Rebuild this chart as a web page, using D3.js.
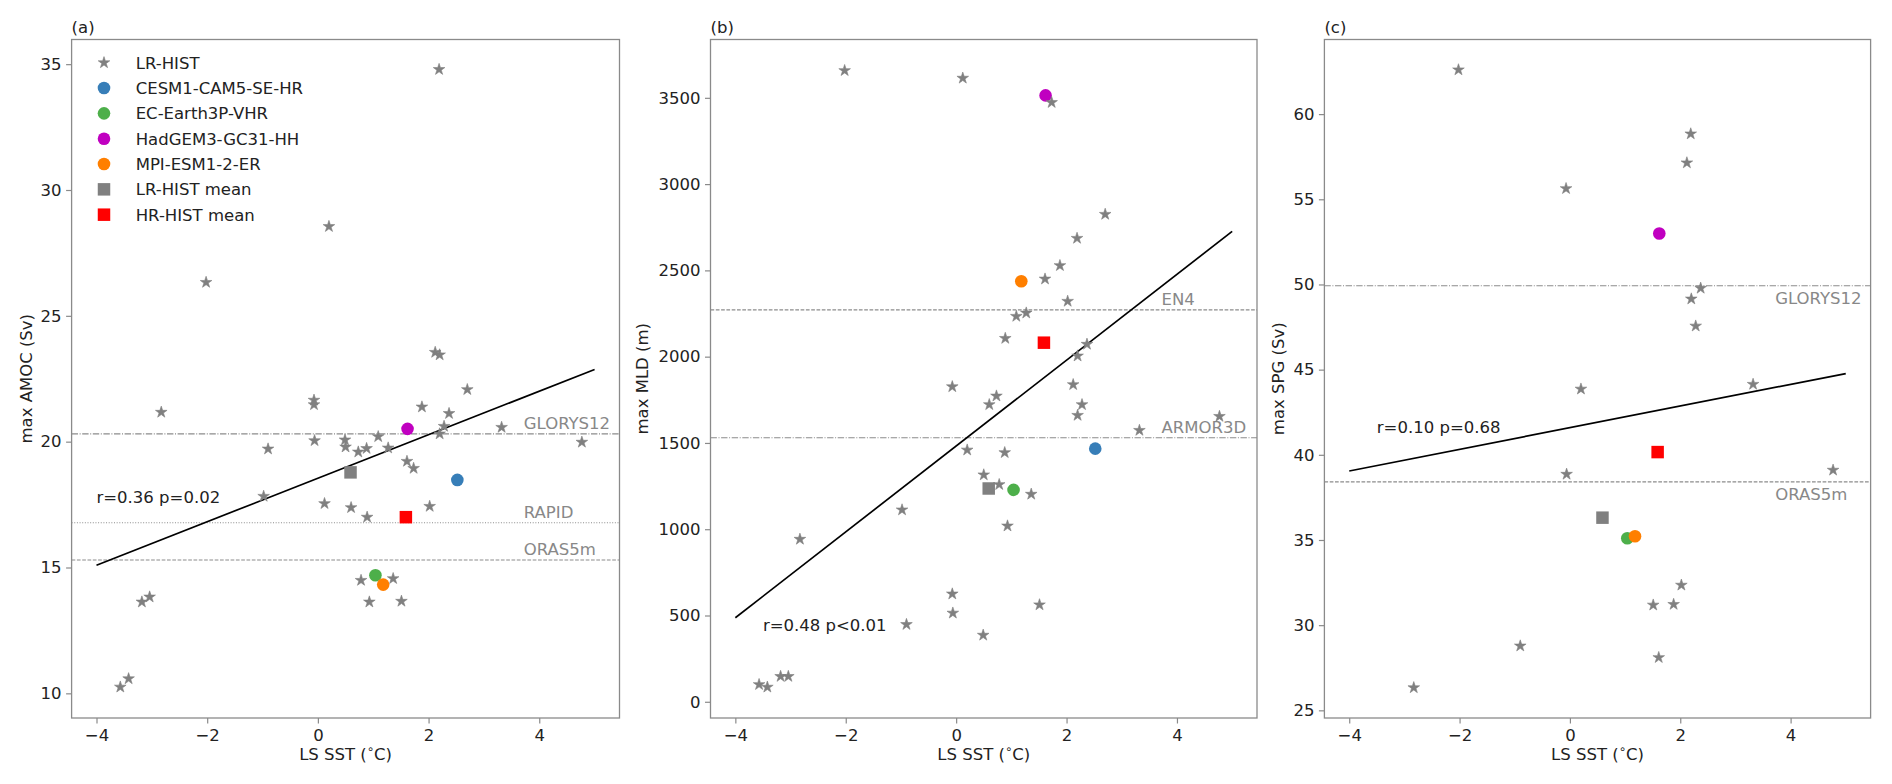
<!DOCTYPE html>
<html><head><meta charset="utf-8">
<script src="https://cdn.jsdelivr.net/npm/d3@7"></script>
<style>body{margin:0;background:#fff} text{font-family:"DejaVu Sans",sans-serif}</style>
</head><body><svg id="c" width="1892" height="784"></svg>
<script>
// ---------------- DATA ----------------
const xTicks = [-4, -2, 0, 2, 4];
const amocTicks = [10, 15, 20, 25, 30, 35];
const mldTicks = [0, 500, 1000, 1500, 2000, 2500, 3000, 3500];
const spgTicks = [25, 30, 35, 40, 45, 50, 55, 60];

// LR-HIST models: Labrador Sea SST (°C)
const lrSST = [-3.57,-3.42,-3.18,-3.04,-2.83,-2.02,-0.98,-0.90,-0.07,-0.07,-0.06,0.12,0.20,0.49,0.50,0.60,0.73,0.78,0.88,0.89,0.93,1.09,1.27,1.36,1.51,1.61,1.73,1.88,2.02,2.12,2.19,2.20,2.20,2.28,2.37,2.70,3.32,4.77];
const lrAMOC = [10.25,10.58,13.63,13.83,21.17,26.33,17.83,19.71,21.65,21.47,20.04,17.54,28.55,20.07,19.79,17.38,19.59,14.49,19.73,17.0,13.63,20.20,19.75,14.56,13.66,19.22,18.94,21.38,17.43,23.55,34.79,23.45,20.31,20.61,21.12,22.07,20.57,19.98];
const lrMLD = [100,85,147,147,942,3658,1112,448,1826,625,514,3614,1459,386,1315,1722,1772,1259,1444,2106,1019,2234,2253,1203,562,2450,3473,2528,2321,1838,2686,2004,1660,1722,2072,2825,1573,1654];
const lrSPG = [null,null,null,null,26.33,62.60,null,28.78,55.63,null,38.86,null,43.86,null,null,null,null,null,null,null,null,null,null,null,31.18,28.10,null,31.22,32.35,57.14,58.84,49.15,null,47.56,49.78,null,44.14,39.10];

// HR-HIST models
const hrNames = ["CESM1-CAM5-SE-HR", "EC-Earth3P-VHR", "HadGEM3-GC31-HH", "MPI-ESM1-2-ER"];
const hrSST = [2.52, 1.04, 1.62, 1.18];
const hrAMOC = [18.48, 14.69, 20.51, 14.32];
const hrMLD = [1467, 1228, 3514, 2437];
const hrSPG = [null, 35.10, 52.99, 35.22];

// Ensemble means: [LR-HIST mean, HR-HIST mean]
const meanNames = ["LR-HIST mean", "HR-HIST mean"];
const meanSST = [0.59, 1.59];
const meanAMOC = [18.78, 17.0];
const meanMLD = [1236, 2081];
const meanSPG = [36.31, 40.16];

// Observational / reanalysis references
const amocRefNames = ["GLORYS12", "RAPID", "ORAS5m"];
const amocRefValues = [20.31, 16.78, 15.30];
const mldRefNames = ["EN4", "ARMOR3D"];
const mldRefValues = [2271, 1530];
const spgRefNames = ["GLORYS12", "ORAS5m"];
const spgRefValues = [49.92, 38.41];

// Regression lines (end points)
const fitX = [-4, 5];
const amocFit = [15.09, 22.87];
const mldFit = [487, 2726];
const spgFit = [39.05, 44.77];
const statTexts = ["r=0.36 p=0.02", "r=0.48 p<0.01", "r=0.10 p=0.68"];

// ---------------- STYLE ----------------
const hrColors = ["#377eb8", "#4daf4a", "#c000c0", "#ff7f00"];
const meanColors = ["#808080", "#ff0000"];
const starColor = "#808080";
const refDash = {"GLORYS12": "6.4,1.6,1,1.6", "ARMOR3D": "6.4,1.6,1,1.6", "RAPID": "1,1.65", "ORAS5m": "3.7,1.6", "EN4": "3.7,1.6"};
const FS = 16.5;
const TXT = "#222";
const FRAME = "#8a8a8a";

const svg = d3.select("#c");
svg.append("rect").attr("width", 1892).attr("height", 784).attr("fill", "#fff");

const panels = [
  {tag: "(a)", left: 71.6, right: 619.5, ydom: [9.02, 35.98], yTicks: amocTicks, ylab: "max AMOC (Sv)", ylabX: 32,
   lr: lrAMOC, hr: hrAMOC, mean: meanAMOC, refN: amocRefNames, refV: amocRefValues, refBelow: false,
   fit: amocFit, stat: statTexts[0], statX: -4.0, statYpx: 503, legend: true},
  {tag: "(b)", left: 710.5, right: 1257, ydom: [-94, 3838], yTicks: mldTicks, ylab: "max MLD (m)", ylabX: 648,
   lr: lrMLD, hr: hrMLD, mean: meanMLD, refN: mldRefNames, refV: mldRefValues, refBelow: false,
   fit: mldFit, stat: statTexts[1], statX: -3.5, statYpx: 631, legend: false},
  {tag: "(c)", left: 1324.4, right: 1870.6, ydom: [24.55, 64.38], yTicks: spgTicks, ylab: "max SPG (Sv)", ylabX: 1284,
   lr: lrSPG, hr: hrSPG, mean: meanSPG, refN: spgRefNames, refV: spgRefValues, refBelow: true,
   fit: spgFit, stat: statTexts[2], statX: -3.5, statYpx: 432.7, legend: false}
];
const TOP = 39.5, BOT = 718;

const star = d3.symbol().type(d3.symbolStar).size(42);
const square = d3.symbol().type(d3.symbolSquare).size(156);

panels.forEach(p => {
  const x = d3.scaleLinear().domain([-4.45, 5.45]).range([p.left, p.right]);
  const y = d3.scaleLinear().domain(p.ydom).range([BOT, TOP]);
  const g = svg.append("g");

  // reference lines
  p.refN.forEach((n, i) => {
    const yy = y(p.refV[i]);
    g.append("line").attr("x1", p.left).attr("x2", p.right).attr("y1", yy).attr("y2", yy)
      .attr("stroke", "#8c8c8c").attr("stroke-width", 1.1).attr("stroke-dasharray", refDash[n]);
    g.append("text").attr("x", x(3.72)).attr("y", p.refBelow ? yy + 18 : yy - 5)
      .attr("fill", "#888").attr("font-size", FS).text(n);
  });

  // regression line
  g.append("path").datum(fitX.map((v, i) => [v, p.fit[i]]))
    .attr("d", d3.line().x(d => x(d[0])).y(d => y(d[1])))
    .attr("stroke", "#000").attr("stroke-width", 1.7).attr("fill", "none");

  g.append("text").attr("x", x(p.statX)).attr("y", p.statYpx).attr("fill", TXT).attr("font-size", FS).text(p.stat);

  // HR circles
  hrSST.forEach((sx, i) => {
    if (p.hr[i] == null) return;
    g.append("circle").attr("cx", x(sx)).attr("cy", y(p.hr[i])).attr("r", 6.3).attr("fill", hrColors[i]);
  });
  // means
  meanSST.forEach((sx, i) => {
    g.append("path").attr("d", square()).attr("transform", `translate(${x(sx)},${y(p.mean[i])})`).attr("fill", meanColors[i]);
  });
  // LR stars
  lrSST.forEach((sx, i) => {
    if (p.lr[i] == null) return;
    g.append("path").attr("d", star()).attr("transform", `translate(${x(sx)},${y(p.lr[i])})`)
      .attr("fill", starColor).attr("stroke", starColor).attr("stroke-width", 0.6).attr("stroke-linejoin", "round");
  });

  // axes
  const ax = g.append("g").attr("transform", `translate(0,${BOT})`)
    .call(d3.axisBottom(x).tickValues(xTicks).tickSize(5.5).tickPadding(5.5));
  const ay = g.append("g").attr("transform", `translate(${p.left},0)`)
    .call(d3.axisLeft(y).tickValues(p.yTicks).tickSize(5.5).tickPadding(4.5).tickFormat(d3.format("d")));
  [ax, ay].forEach(a => {
    a.select(".domain").remove();
    a.selectAll(".tick line").attr("stroke", FRAME).attr("stroke-width", 1.2);
    a.selectAll(".tick text").attr("fill", TXT).attr("font-size", FS).attr("font-family", "DejaVu Sans");
  });

  // frame
  g.append("rect").attr("x", p.left).attr("y", TOP).attr("width", p.right - p.left).attr("height", BOT - TOP)
    .attr("fill", "none").attr("stroke", FRAME).attr("stroke-width", 1.3);

  // labels
  g.append("text").attr("x", p.left).attr("y", 32.5).attr("fill", TXT).attr("font-size", FS).text(p.tag);
  const xl = g.append("text").attr("x", (p.left + p.right) / 2).attr("y", 760).attr("text-anchor", "middle")
    .attr("fill", TXT).attr("font-size", FS);
  xl.append("tspan").text("LS SST (");
  xl.append("tspan").attr("font-size", FS * 0.7).attr("dy", -7).text("∘");
  xl.append("tspan").attr("dy", 7).text("C)");
  g.append("text").attr("transform", `translate(${p.ylabX},${(TOP + BOT) / 2}) rotate(-90)`)
    .attr("text-anchor", "middle").attr("fill", TXT).attr("font-size", FS).text(p.ylab);

  // legend
  if (p.legend) {
    const items = [{n: "LR-HIST", t: "star", c: starColor}]
      .concat(hrNames.map((n, i) => ({n, t: "circle", c: hrColors[i]})))
      .concat(meanNames.map((n, i) => ({n, t: "square", c: meanColors[i]})));
    items.forEach((it, i) => {
      const cy = 62.7 + i * 25.33, cx = 104;
      if (it.t === "circle") g.append("circle").attr("cx", cx).attr("cy", cy).attr("r", 6.3).attr("fill", it.c);
      else g.append("path").attr("d", it.t === "star" ? star() : square()).attr("transform", `translate(${cx},${cy})`)
        .attr("fill", it.c).attr("stroke", it.t === "star" ? it.c : "none").attr("stroke-width", 0.6);
      g.append("text").attr("x", 135.7).attr("y", cy + 6).attr("fill", TXT).attr("font-size", FS).text(it.n);
    });
  }
});
</script></body></html>
